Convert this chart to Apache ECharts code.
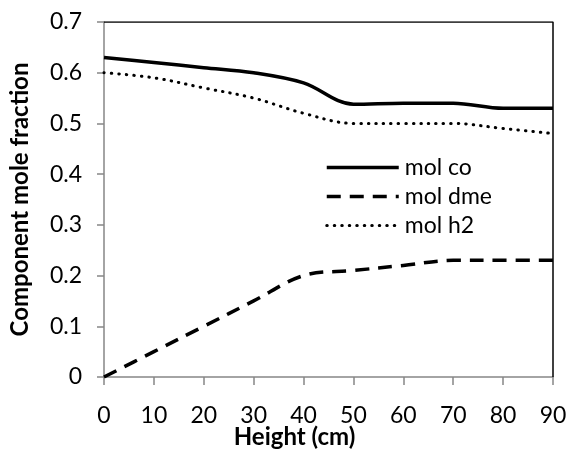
<!DOCTYPE html>
<html>
<head>
<meta charset="utf-8">
<script src="https://cdn.jsdelivr.net/npm/echarts@6/dist/echarts.min.js"></script>
<style>
  html, body { margin: 0; padding: 0; background: #fff; }
  #chart { width: 566px; height: 450px; }
</style>
</head>
<body>
<div id="chart"></div>
<script>
// heights (cm)
const heights = [0, 10, 20, 30, 40, 50, 60, 70, 80, 90];
const molCo = [0.63, 0.62, 0.61, 0.60, 0.58, 0.538, 0.54, 0.54, 0.53, 0.53];
const molDme = [0, 0.05, 0.10, 0.15, 0.20, 0.21, 0.22, 0.23, 0.23, 0.23];
const molH2 = [0.60, 0.59, 0.57, 0.55, 0.52, 0.50, 0.50, 0.50, 0.49, 0.48];

const font = 'Lato';
const pair = (ys) => heights.map((h, i) => [h, ys[i]]);

let myChart = echarts.init(document.getElementById('chart'));
let option = {
  animation: false,
  grid: { left: 104, right: 13, top: 22, bottom: 73, containLabel: false, outerBoundsMode: 'none' },
  legend: {
    orient: 'vertical',
    left: 320,
    top: 151,
    itemWidth: 72,
    itemHeight: 14,
    itemGap: 6,
    itemStyle: { opacity: 0 },
    lineStyle: { width: 'inherit', type: 'inherit' },
    textStyle: { fontFamily: font, fontSize: 23, color: '#000', padding: [0, 0, 0, 1] },
    data: ['mol co', 'mol dme', 'mol h2'],
  },
  xAxis: {
    type: 'value',
    min: 0,
    max: 90,
    interval: 10,
    name: 'Height (cm)',
    nameLocation: 'middle',
    nameGap: 48,
    nameMoveOverlap: false,
    nameTextStyle: {
      fontFamily: font,
      fontSize: 24,
      fontWeight: 'bold',
      color: '#000',
      padding: [0, 68, 0, 0],
    },
    axisLine: { show: true, lineStyle: { color: '#868686', width: 1.5 } },
    axisTick: { show: true, length: 8, lineStyle: { color: '#868686', width: 1.5 } },
    axisLabel: { margin: 27, fontFamily: font, fontSize: 23, color: '#000' },
    splitLine: { show: false },
  },
  yAxis: {
    type: 'value',
    min: 0,
    max: 0.7,
    interval: 0.1,
    name: 'Component mole fraction',
    nameLocation: 'middle',
    nameGap: 72,
    nameMoveOverlap: false,
    nameTextStyle: { fontFamily: font, fontSize: 24, fontWeight: 'bold', color: '#000' },
    axisLine: { show: true, lineStyle: { color: '#868686', width: 1.5 } },
    axisTick: { show: true, length: 7, lineStyle: { color: '#868686', width: 1.5 } },
    axisLabel: {
      margin: 22,
      fontFamily: font,
      fontSize: 23,
      color: '#000',
      formatter: (v) => (v === 0 ? '0' : v.toFixed(1)),
    },
    splitLine: { show: false },
  },
  series: [
    {
      name: 'mol co',
      type: 'line',
      data: pair(molCo),
      smooth: 0.35,
      symbol: 'none',
      lineStyle: { color: '#000', width: 3.5, type: 'solid' },
      itemStyle: { color: '#000' },
    },
    {
      name: 'mol dme',
      type: 'line',
      data: pair(molDme),
      smooth: 0.35,
      symbol: 'none',
      lineStyle: { color: '#000', width: 3.5, type: [14, 9] },
      itemStyle: { color: '#000' },
    },
    {
      name: 'mol h2',
      type: 'line',
      data: pair(molH2),
      smooth: 0.35,
      symbol: 'none',
      lineStyle: { color: '#000', width: 3, type: [0.5, 7], cap: 'round' },
      itemStyle: { color: '#000' },
    },
    {
      // top and right frame of the plot area
      type: 'line',
      data: [[0, 0.7], [90, 0.7], [90, 0]],
      symbol: 'none',
      silent: true,
      lineStyle: { color: '#000', width: 1.5 },
      z: 1,
    },
  ],
};
myChart.setOption(option);
</script>
</body>
</html>
